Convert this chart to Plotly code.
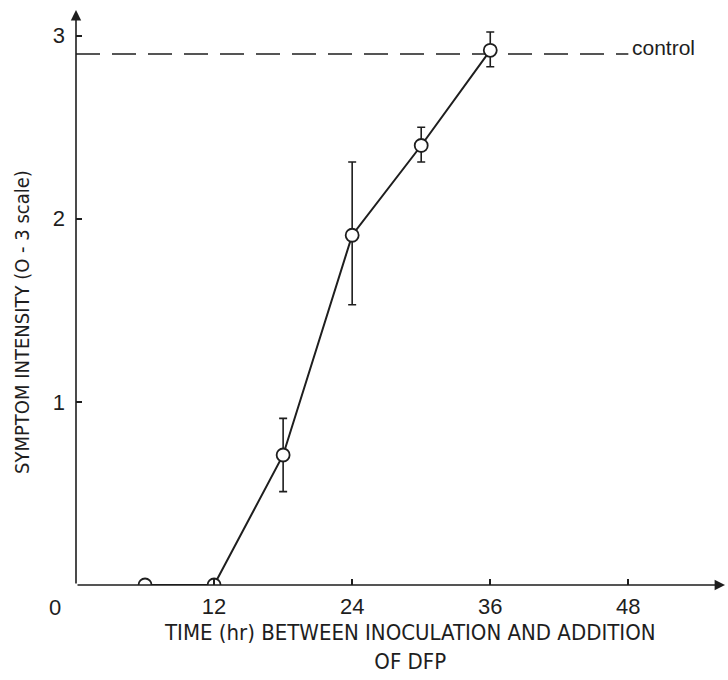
import plotly.graph_objects as go

time_hr = [6, 12, 18, 24, 30, 36]
intensity = [0.0, 0.0, 0.71, 1.91, 2.40, 2.92]
err_plus = [None, None, 0.20, 0.40, 0.10, 0.10]
err_minus = [None, None, 0.20, 0.38, 0.09, 0.09]
control_level = 2.9
control_x = [0, 48]
x_ticks = [12, 24, 36, 48]
y_ticks = [1, 2, 3]

ink = "#1e1e1e"
X_MAX = 56.4
Y_MAX = 3.14
narrow = "DejaVu Sans Condensed, Liberation Sans Narrow, Arial Narrow, sans-serif"

fig = go.Figure()

fig.add_trace(go.Scatter(
    x=control_x, y=[control_level, control_level], mode="lines",
    line=dict(color=ink, width=1.6, dash="24px,12px"),
    hoverinfo="skip", showlegend=False))

fig.add_trace(go.Scatter(
    x=time_hr, y=intensity, mode="lines",
    line=dict(color=ink, width=2), showlegend=False))

fig.add_trace(go.Scatter(
    x=time_hr, y=intensity, mode="markers",
    marker=dict(symbol="circle", size=13, color="white",
                line=dict(color=ink, width=1.8)),
    error_y=dict(type="data", array=err_plus, arrayminus=err_minus,
                 symmetric=False, color=ink, thickness=1.6, width=4),
    showlegend=False))

fig.update_layout(
    width=728, height=680,
    margin=dict(l=76, r=3, t=10, b=95),
    paper_bgcolor="white", plot_bgcolor="white",
    font=dict(family="Liberation Sans, Arial, sans-serif", color=ink),
    xaxis=dict(range=[0, X_MAX], tickvals=x_ticks, ticktext=[str(v) for v in x_ticks],
               ticks="inside", ticklen=6, tickwidth=1.5, tickcolor=ink,
               showgrid=False, zeroline=False, showline=False,
               tickfont=dict(size=22), ticklabelstandoff=6),
    yaxis=dict(range=[0, Y_MAX], tickvals=y_ticks, ticktext=[str(v) for v in y_ticks],
               ticks="inside", ticklen=6, tickwidth=1.5, tickcolor=ink,
               showgrid=False, zeroline=False, showline=False,
               tickfont=dict(size=22), ticklabelstandoff=10),
)

fig.add_annotation(x=X_MAX, y=0, ax=0, ay=0, xref="x", yref="y", axref="x", ayref="y",
                   showarrow=True, arrowhead=2, arrowsize=1.3, arrowwidth=1.6,
                   arrowcolor=ink, text="")
fig.add_annotation(x=0, y=Y_MAX, ax=0, ay=0, xref="x", yref="y", axref="x", ayref="y",
                   showarrow=True, arrowhead=2, arrowsize=1.3, arrowwidth=1.6,
                   arrowcolor=ink, text="")

fig.add_annotation(x=0, y=0, xref="x", yref="y", text="0", showarrow=False,
                   xshift=-21, yshift=-22, font=dict(size=22))

fig.add_annotation(x=control_x[1], y=control_level, xref="x", yref="y", text="control",
                   showarrow=False, xanchor="left", yanchor="middle", xshift=2, yshift=6,
                   font=dict(size=21))

fig.add_annotation(xref="paper", yref="paper", x=(22 - 76) / 649, y=(585 - 322) / 575,
                   text="SYMPTOM INTENSITY (O - 3 scale)", textangle=-90, showarrow=False,
                   xanchor="center", yanchor="middle",
                   font=dict(size=20, family=narrow))
fig.add_annotation(xref="paper", yref="paper", x=(410 - 76) / 649, y=-(647 - 585) / 575,
                   text="TIME (hr) BETWEEN INOCULATION AND ADDITION<br>OF DFP",
                   showarrow=False, xanchor="center", yanchor="middle",
                   font=dict(size=22, family=narrow))

fig.write_html("out.html", config={"displayModeBar": False},
               post_script="document.body.style.margin='0';")
